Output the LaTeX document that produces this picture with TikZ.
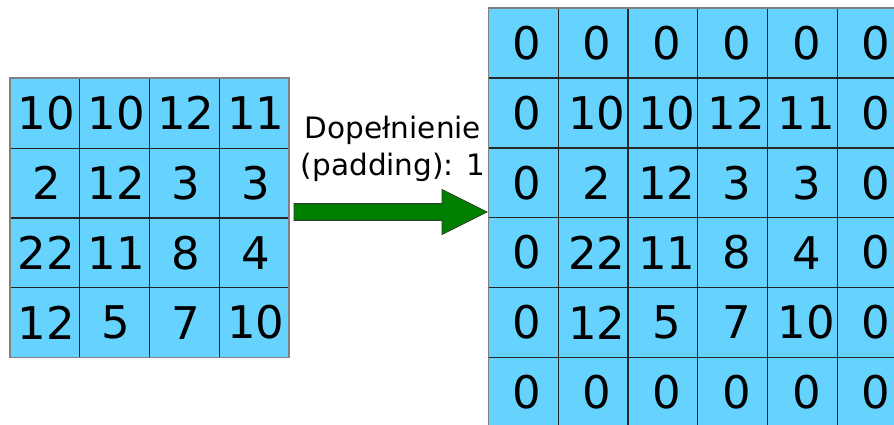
\documentclass[tikz,border=0pt]{standalone}
\usepackage{fontspec}
\setmainfont{DejaVu Sans}
\usetikzlibrary{positioning}

\definecolor{cellblue}{RGB}{102,211,255}
\definecolor{arrowgreen}{RGB}{0,128,0}

\tikzset{
  numcell/.style={font=\fontsize{45}{54}\selectfont, inner sep=0pt},
  gridline/.style={line width=1.2pt, black!85},
  gridframe/.style={line width=1.6pt, black!50},
  bigarrow/.style={fill=arrowgreen, draw=black!80, line width=0.8pt},
}

\begin{document}
\begin{tikzpicture}[x=1pt, y=1pt]
\useasboundingbox (0,0) rectangle (894,424);
\clip (0,0) rectangle (894,424);

% Input image 4x4
\begin{scope}[shift={(10,66.5)}, x=69.8pt, y=69.8pt]
\fill[cellblue] (0,0) rectangle (4,4);
\draw[gridline, step=1] (0,0) grid (4,4);
\draw[gridframe] (0,0) rectangle (4,4);
\foreach \vals [count=\row from 0] in {{10,10,12,11},{2,12,3,3},{22,11,8,4},{12,5,7,10}}
  \foreach \v [count=\col from 0] in \vals
    \node[numcell, xshift=1.5pt] (in-\row-\col) at (\col+0.5,3.5-\row) {\v};
\end{scope}

% Padded image 6x6
\begin{scope}[shift={(488.3,-3.1)}, x=69.8pt, y=69.8pt]
\fill[cellblue] (0,0) rectangle (6,6);
\draw[gridline, step=1] (0,0) grid (6,6);
\draw[gridframe] (0,0) rectangle (6,6);
\foreach \vals [count=\row from 0] in {{0,0,0,0,0,0},{0,10,10,12,11,0},{0,2,12,3,3,0},{0,22,11,8,4,0},{0,12,5,7,10,0},{0,0,0,0,0,0}}
  \foreach \v [count=\col from 0] in \vals
    \node[numcell, xshift=4pt] (out-\row-\col) at (\col+0.5,5.5-\row) {\v};
\end{scope}

% Arrow and label
\coordinate (arrow-start) at (294,212);
\coordinate (arrow-tip) at (487,212);
\draw[bigarrow] (arrow-start) ++(0,8.5) -- ++(148,0) -- ++(0,14) -- (arrow-tip)
  -- ++(-45,-22.5) -- ++(0,14) -- ++(-148,0) -- cycle;
\node[align=center, font=\fontsize{29.5}{37}\selectfont, inner sep=0pt] (pad-label)
  at (393,275) {Dopełnienie\\(padding): 1};
\end{tikzpicture}
\end{document}
